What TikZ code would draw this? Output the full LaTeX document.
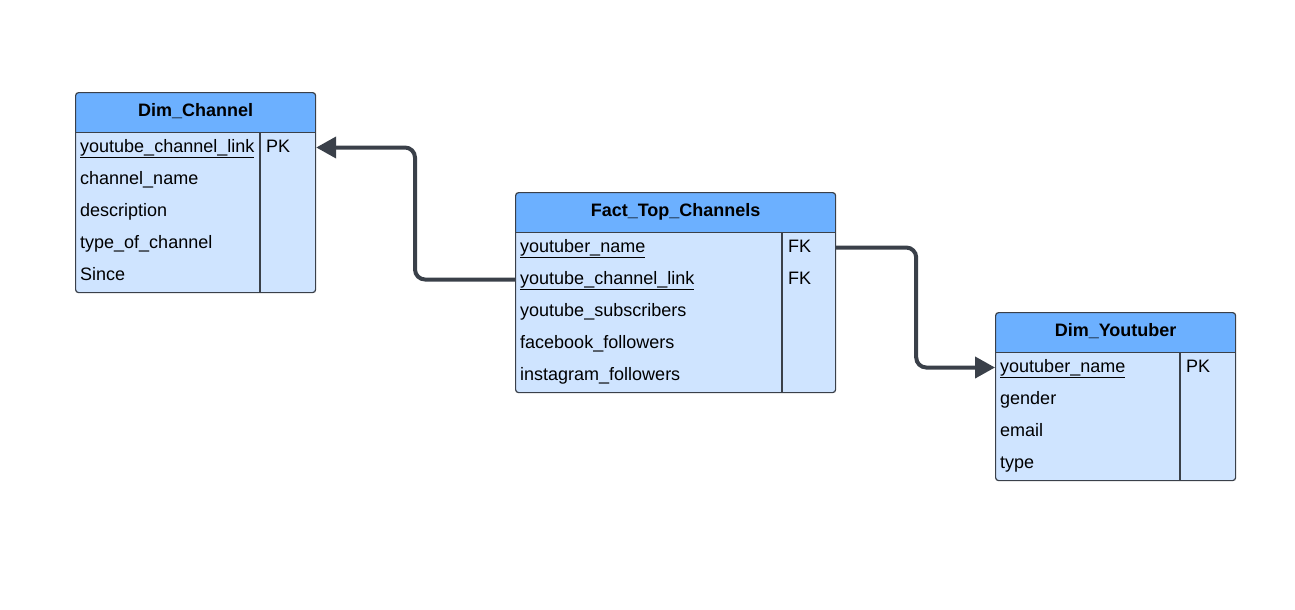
\documentclass[tikz,border=0pt]{standalone}
\usepackage{fontspec}
\setmainfont{Liberation Sans}
\usetikzlibrary{arrows.meta,calc,positioning}
\definecolor{headblue}{HTML}{6CB0FF}
\definecolor{bodyblue}{HTML}{CFE4FF}
\definecolor{edgegray}{HTML}{3A4049}
\tikzset{
  tbl/.style={draw=edgegray, line width=1.2pt, fill=bodyblue, rounded corners=3pt, inner sep=0pt, anchor=north west,
    path picture={
      \fill[headblue, sharp corners] (path picture bounding box.north west) rectangle ([yshift=-40pt]path picture bounding box.north east);
      \draw[edgegray, line width=1.2pt, sharp corners] ([yshift=-40pt]path picture bounding box.north west) -- ([yshift=-40pt]path picture bounding box.north east);
    }},
  divider/.style={draw=edgegray, line width=1.2pt},
  head/.style={font=\fontsize{18}{22}\selectfont\bfseries, anchor=base, inner sep=0pt},
  field/.style={font=\fontsize{18}{22}\selectfont, anchor=base west, inner sep=0pt, text height=13pt, text depth=4pt},
  relation/.style={draw=edgegray, line width=4pt, rounded corners=10pt, -{Triangle[length=20pt,width=21pt]}}
}
\begin{document}
\begin{tikzpicture}[x=1pt, y=-1pt]
  \useasboundingbox (0,0) rectangle (1295,610);

  % Dim_Channel
  \node[tbl, minimum width=240pt, minimum height=200pt] (dimchannel) at (75,92) {};
  \draw[divider] ([xshift=185pt,yshift=-40pt]dimchannel.north west) -- ([xshift=185pt]dimchannel.south west);
  \node[head] (dimchannel-title) at ([yshift=-24pt]dimchannel.north) {Dim\_Channel};
  \foreach \f [count=\i] in {\underline{youtube\_channel\_link}, channel\_name, description, type\_of\_channel, Since} {
    \node[field] (dimchannel-\i) at ([xshift=5pt,yshift={-28pt-32pt*\i}]dimchannel.north west) {\f};
  }
  \node[field] (dimchannel-pk) at ([xshift=191pt,yshift=-60pt]dimchannel.north west) {PK};

  % Fact_Top_Channels
  \node[tbl, minimum width=320pt, minimum height=200pt] (fact) at (515,192) {};
  \draw[divider] ([xshift=267pt,yshift=-40pt]fact.north west) -- ([xshift=267pt]fact.south west);
  \node[head] (fact-title) at ([yshift=-24pt]fact.north) {Fact\_Top\_Channels};
  \foreach \f [count=\i] in {\underline{youtuber\_name}, \underline{youtube\_channel\_link}, youtube\_subscribers, facebook\_followers, instagram\_followers} {
    \node[field] (fact-\i) at ([xshift=5pt,yshift={-28pt-32pt*\i}]fact.north west) {\f};
  }
  \foreach \i in {1,2} {
    \node[field] (fact-fk\i) at ([xshift=273pt,yshift={-28pt-32pt*\i}]fact.north west) {FK};
  }

  % Dim_Youtuber
  \node[tbl, minimum width=240pt, minimum height=168pt] (dimyoutuber) at (995,312) {};
  \draw[divider] ([xshift=185pt,yshift=-40pt]dimyoutuber.north west) -- ([xshift=185pt]dimyoutuber.south west);
  \node[head] (dimyoutuber-title) at ([yshift=-24pt]dimyoutuber.north) {Dim\_Youtuber};
  \foreach \f [count=\i] in {\underline{youtuber\_name}, gender, email, type} {
    \node[field] (dimyoutuber-\i) at ([xshift=5pt,yshift={-28pt-32pt*\i}]dimyoutuber.north west) {\f};
  }
  \node[field] (dimyoutuber-pk) at ([xshift=191pt,yshift=-60pt]dimyoutuber.north west) {PK};

  % Relations
  \draw[relation] (fact.west |- fact-2) -- ++(-100pt,0) |- (dimchannel.east |- dimchannel-1);
  \draw[relation] (fact.east |- fact-1) -- ++(80pt,0) |- (dimyoutuber.west |- dimyoutuber-1);
\end{tikzpicture}
\end{document}
